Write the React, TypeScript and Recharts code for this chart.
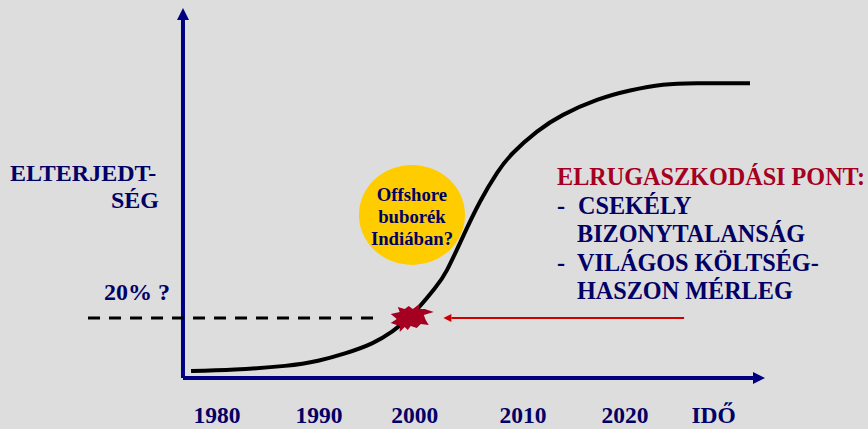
import { LineChart, Line, XAxis, YAxis, ReferenceLine, ReferenceDot } from "recharts";

const WIDTH = 868;
const HEIGHT = 429;
const BG = "#dddddd";
const NAVY = "#000080";
const TEXT_NAVY = "#000066";
const WINE = "#a50021";
const FONT = "'Liberation Serif', serif";

// curve: year, spread %
const years = [
  1977.46, 1981.77, 1986.67, 1989.91, 1992.55, 1995.2, 1997.16, 1998.4, 1999.9, 2001.38, 2002.55,
  2004.12, 2005.79, 2007.45, 2009.02, 2011.38, 2013.93, 2017.26, 2020.5, 2023.73, 2027.06, 2032.26,
];
const spread = [
  2.6, 3.1, 4.3, 6, 8.4, 11.7, 15.5, 19, 23.9, 29.8, 35.7, 46.7, 58.1, 67.5, 74.1, 81.1, 86.6, 91.5,
  94.6, 96.5, 97, 97,
];
const curve = years.map((year, i) => ({ year, spread: spread[i] }));

const xDomain = [1958.73, 2043.83];
const yDomain = [0, 124.26];
const xTickPositions = [1980, 1990, 1999.4, 2010, 2020, 2028.7];
const xTickLabels = ["1980", "1990", "2000", "2010", "2020", "IDŐ"];

const axisOriginYear = 1976.67;
const axisEndYear = 2033.73;
const axisBase = 0.3;
const axisTop = 121.6;
const threshold = 20;
const dashFrom = 1967.36;
const dashTo = 1995.4;
const arrowFrom = 2025.8;
const arrowTo = 2002.2;
const bubbleAt = { year: 1999.12, spread: 53.8 };
const starAt = { year: 1999.0, spread: 20 };

const leftLabels = [
  { text: "ELTERJEDT-", x: 10, y: 181 },
  { text: "SÉG", x: 111, y: 208 },
  { text: "20% ?", x: 104, y: 300 },
];
const bubbleLines = ["Offshore", "buborék", "Indiában?"];
const rightLines = [
  { text: "-", x: 557, y: 214 },
  { text: "CSEKÉLY", x: 578, y: 214 },
  { text: "BIZONYTALANSÁG", x: 577, y: 242 },
  { text: "-", x: 557, y: 271 },
  { text: "VILÁGOS KÖLTSÉG-", x: 577, y: 271 },
  { text: "HASZON MÉRLEG", x: 577, y: 299 },
];

const starPoints =
  "9,-14 8,-9 14,-9 23,-6 13,-3 15,2 18,7 10,6 6,10 0,8 -3,12 -6,9 -11,14 -11,8 -20,5 -14,1 -20,-4 -11,-6 -13,-11 -6,-9 -2,-12 2,-9";

function ArrowLine(props: any) {
  const { x1, y1, x2, y2, stroke, strokeWidth, head, length } = props;
  const horizontal = Math.abs(x2 - x1) > Math.abs(y2 - y1);
  const dir = horizontal ? Math.sign(x2 - x1) : Math.sign(y2 - y1);
  const pts = horizontal
    ? `${x2},${y2} ${x2 - dir * length},${y2 - head} ${x2 - dir * length},${y2 + head}`
    : `${x2},${y2} ${x2 - head},${y2 - dir * length} ${x2 + head},${y2 - dir * length}`;
  const endX = horizontal ? x2 - dir * length : x2;
  const endY = horizontal ? y2 : y2 - dir * length;
  return (
    <g>
      <line x1={x1} y1={y1} x2={endX} y2={endY} stroke={stroke} strokeWidth={strokeWidth} />
      <polygon points={pts} fill={stroke} />
    </g>
  );
}

function Bubble(props: any) {
  const { cx, cy } = props;
  return (
    <g>
      <ellipse cx={cx} cy={cy} rx={53} ry={50} fill="#ffcc00" />
      {bubbleLines.map((line, i) => (
        <text
          key={line}
          x={cx}
          y={cy - 14 + i * 22}
          fontFamily={FONT}
          fontWeight={700}
          fontSize={18.7}
          fill={TEXT_NAVY}
          textAnchor="middle"
        >
          {line}
        </text>
      ))}
    </g>
  );
}

export default function App() {
  return (
    <div style={{ position: "absolute", left: 0, top: 0, width: WIDTH, height: HEIGHT, background: BG }}>
      <LineChart width={WIDTH} height={HEIGHT} data={curve} margin={{ top: 0, right: 0, left: 0, bottom: 0 }}>
        <XAxis
          dataKey="year"
          type="number"
          domain={xDomain}
          ticks={xTickPositions}
          interval={0}
          height={50}
          axisLine={false}
          tickLine={false}
          tickMargin={21}
          tickFormatter={(_v, i) => xTickLabels[i]}
          tick={{ fontSize: 23.5, fontWeight: 700, fontFamily: FONT, fill: TEXT_NAVY }}
        />
        <YAxis hide domain={yDomain} />

        <ReferenceLine
          segment={[{ x: axisOriginYear, y: axisBase }, { x: axisEndYear, y: axisBase }]}
          stroke={NAVY}
          strokeWidth={4}
          shape={(p: any) => <ArrowLine {...p} stroke={NAVY} strokeWidth={4} head={6} length={12} />}
        />
        <ReferenceLine
          segment={[{ x: axisOriginYear, y: axisBase }, { x: axisOriginYear, y: axisTop }]}
          stroke={NAVY}
          strokeWidth={4}
          shape={(p: any) => <ArrowLine {...p} stroke={NAVY} strokeWidth={4} head={6} length={12} />}
        />
        <ReferenceLine
          segment={[{ x: dashFrom, y: threshold }, { x: dashTo, y: threshold }]}
          stroke="#000000"
          strokeWidth={3}
          strokeDasharray="12 9"
        />
        <ReferenceLine
          segment={[{ x: arrowFrom, y: threshold }, { x: arrowTo, y: threshold }]}
          stroke="#cc0000"
          strokeWidth={2}
          shape={(p: any) => <ArrowLine {...p} stroke="#cc0000" strokeWidth={2} head={4} length={8} />}
        />

        <Line
          dataKey="spread"
          type="natural"
          stroke="#000000"
          strokeWidth={4}
          dot={false}
          activeDot={false}
          isAnimationActive={false}
        />

        <ReferenceDot x={bubbleAt.year} y={bubbleAt.spread} shape={(p: any) => <Bubble {...p} />} />
        <ReferenceDot
          x={starAt.year}
          y={starAt.spread}
          shape={(p: any) => <polygon points={starPoints} transform={`translate(${p.cx},${p.cy})`} fill={WINE} />}
        />

        <g fontFamily={FONT} fontWeight={700}>
          {leftLabels.map((l) => (
            <text key={l.text} x={l.x} y={l.y} fontSize={24} fill={TEXT_NAVY}>
              {l.text}
            </text>
          ))}
          <text x={557} y={185} fontSize={24.2} fill={WINE}>
            ELRUGASZKODÁSI PONT:
          </text>
          {rightLines.map((l, i) => (
            <text key={i} x={l.x} y={l.y} fontSize={24.2} fill={TEXT_NAVY}>
              {l.text}
            </text>
          ))}
        </g>
      </LineChart>
    </div>
  );
}
